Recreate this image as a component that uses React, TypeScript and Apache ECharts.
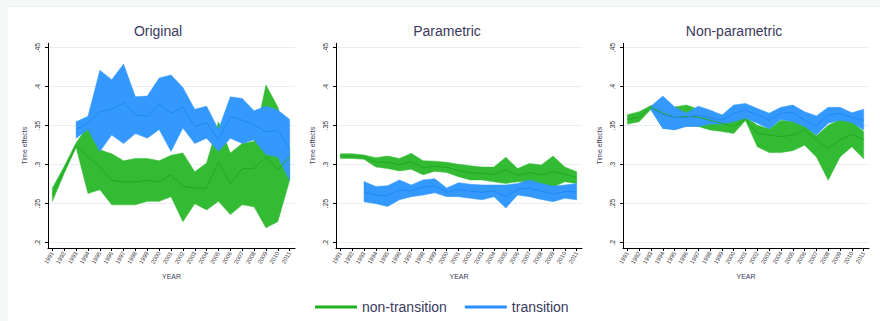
import React, { useEffect, useRef } from 'react';
import * as echarts from 'echarts';

const years = [1991, 1992, 1993, 1994, 1995, 1996, 1997, 1998, 1999, 2000, 2001, 2002, 2003, 2004, 2005, 2006, 2007, 2008, 2009, 2010, 2011];
const yTicks = [0.2, 0.25, 0.3, 0.35, 0.4, 0.45];
const panelTitles = ['Original', 'Parametric', 'Non-parametric'];
const seriesNames = ['non-transition', 'transition'];
const transitionStart = 2; // transition series begins at years[2]

// Original
const origNonLo = [0.253, 0.289, 0.322, 0.263, 0.268, 0.2485, 0.2485, 0.2485, 0.253, 0.253, 0.259, 0.227, 0.25, 0.242, 0.253, 0.236, 0.2485, 0.246, 0.219, 0.227, 0.28];
const origNonHi = [0.27, 0.298, 0.328, 0.35, 0.319, 0.314, 0.305, 0.308, 0.308, 0.305, 0.312, 0.315, 0.291, 0.302, 0.355, 0.315, 0.327, 0.33, 0.402, 0.374, 0.318];
const origNonMean = [0.261, 0.293, 0.325, 0.31, 0.297, 0.28, 0.278, 0.278, 0.28, 0.278, 0.287, 0.272, 0.27, 0.27, 0.304, 0.276, 0.295, 0.295, 0.31, 0.293, 0.31];
const origTrLo = [0.334, 0.345, 0.317, 0.338, 0.327, 0.34, 0.334, 0.345, 0.317, 0.347, 0.327, 0.334, 0.317, 0.334, 0.327, 0.332, 0.313, 0.31, 0.28];
const origTrHi = [0.355, 0.362, 0.421, 0.409, 0.429, 0.387, 0.388, 0.411, 0.415, 0.399, 0.371, 0.375, 0.345, 0.387, 0.385, 0.369, 0.375, 0.37, 0.358];
const origTrMean = [0.345, 0.353, 0.368, 0.371, 0.379, 0.364, 0.362, 0.378, 0.366, 0.374, 0.349, 0.354, 0.332, 0.362, 0.357, 0.351, 0.342, 0.344, 0.321];

// Parametric
const parNonLo = [0.308, 0.308, 0.307, 0.297, 0.295, 0.292, 0.294, 0.287, 0.2915, 0.29, 0.2845, 0.2805, 0.2805, 0.278, 0.276, 0.278, 0.278, 0.274, 0.2715, 0.278, 0.276];
const parNonHi = [0.314, 0.314, 0.3125, 0.309, 0.311, 0.308, 0.3145, 0.305, 0.3045, 0.303, 0.3005, 0.2985, 0.297, 0.297, 0.3095, 0.295, 0.3015, 0.2995, 0.311, 0.297, 0.291];
const parNonMean = [0.311, 0.311, 0.31, 0.303, 0.303, 0.3, 0.304, 0.296, 0.298, 0.2965, 0.2925, 0.2895, 0.289, 0.2875, 0.293, 0.2865, 0.29, 0.287, 0.291, 0.2875, 0.2835];
const parTrLo = [0.2525, 0.25, 0.2465, 0.255, 0.259, 0.261, 0.264, 0.259, 0.259, 0.257, 0.255, 0.259, 0.2445, 0.261, 0.259, 0.2555, 0.2525, 0.257, 0.255];
const parTrHi = [0.2785, 0.272, 0.273, 0.2805, 0.274, 0.2805, 0.282, 0.27, 0.277, 0.275, 0.274, 0.274, 0.274, 0.276, 0.2805, 0.276, 0.2725, 0.274, 0.276];
const parTrMean = [0.2655, 0.261, 0.26, 0.268, 0.2665, 0.271, 0.273, 0.2645, 0.268, 0.266, 0.2645, 0.2665, 0.259, 0.2685, 0.27, 0.266, 0.2625, 0.2655, 0.2655];

// Non-parametric
const npNonLo = [0.352, 0.355, 0.371, 0.3465, 0.3465, 0.3495, 0.349, 0.3445, 0.3425, 0.34, 0.3565, 0.323, 0.3155, 0.3155, 0.318, 0.325, 0.31, 0.28, 0.31, 0.323, 0.3075];
const npNonHi = [0.364, 0.368, 0.376, 0.375, 0.374, 0.3765, 0.371, 0.368, 0.364, 0.3595, 0.361, 0.3505, 0.346, 0.357, 0.3555, 0.3505, 0.337, 0.3505, 0.358, 0.3555, 0.3425];
const npNonMean = [0.358, 0.361, 0.374, 0.366, 0.3605, 0.362, 0.361, 0.357, 0.353, 0.349, 0.3585, 0.34, 0.338, 0.336, 0.338, 0.3445, 0.332, 0.3215, 0.332, 0.339, 0.332];
const npTrLo = [0.37, 0.3465, 0.3445, 0.349, 0.349, 0.352, 0.352, 0.355, 0.3595, 0.353, 0.346, 0.358, 0.355, 0.349, 0.338, 0.353, 0.357, 0.354, 0.3445];
const npTrHi = [0.375, 0.388, 0.374, 0.366, 0.375, 0.37, 0.3635, 0.3765, 0.3785, 0.372, 0.366, 0.3735, 0.3765, 0.368, 0.3625, 0.3735, 0.3735, 0.3665, 0.371];
const npTrMean = [0.3725, 0.364, 0.3605, 0.3605, 0.364, 0.3605, 0.357, 0.366, 0.37, 0.364, 0.357, 0.366, 0.367, 0.357, 0.35, 0.364, 0.366, 0.3605, 0.357];

const panels = [
  { non: [origNonLo, origNonHi, origNonMean], tr: [origTrLo, origTrHi, origTrMean] },
  { non: [parNonLo, parNonHi, parNonMean], tr: [parTrLo, parTrHi, parTrMean] },
  { non: [npNonLo, npNonHi, npNonMean], tr: [npTrLo, npTrHi, npTrMean] },
];

const GREEN_BAND = '#33bb33';
const GREEN_LINE = '#22a822';
const GREEN_LEGEND = '#1fb31f';
const BLUE_BAND = '#3399ff';
const BLUE_LINE = '#2288ee';
const BLUE_LEGEND = '#2a8fff';
const TEXT = '#3a3a5c';
const FONT = '"Liberation Sans", Arial, sans-serif';

const gridBoxes = [
  { left: 48, right: 585 },
  { left: 336, right: 298 },
  { left: 623, right: 11 },
];
const titleX = [158, 447, 734];

function bandSeries(g: number, start: number, lo: number[], hi: number[], mean: number[], name: string, band: string, line: string) {
  const xs = (i: number) => years[start + i];
  const rows = lo.map((v, i) => [xs(i), v, hi[i]]);
  return [
    {
      type: 'custom', name: `${name}-band-${g}`, xAxisIndex: g, yAxisIndex: g, silent: true,
      data: rows, encode: { x: 0, y: [1, 2] },
      renderItem: (params: any, api: any) => {
        if (params.dataIndexInside !== 0) return null;
        const upper = rows.map((r) => api.coord([r[0], r[2]]));
        const lower = rows.map((r) => api.coord([r[0], r[1]])).reverse();
        return {
          type: 'polygon',
          shape: { points: upper.concat(lower) },
          style: { fill: band, stroke: band, lineWidth: 0.5 },
        };
      },
    },
    {
      type: 'line', name, xAxisIndex: g, yAxisIndex: g,
      data: mean.map((v, i) => [xs(i), v]), symbol: 'none', silent: true,
      itemStyle: { color: line }, lineStyle: { color: line, width: 1 },
    },
  ];
}

const fmtY = (v: number) => String(Math.round(v * 100) / 100).replace(/^0/, '');

export default function App() {
  const ref = useRef<HTMLDivElement>(null);
  useEffect(() => {
    if (!ref.current) return;
    const chart = echarts.init(ref.current, null, { renderer: 'svg' });
    const grids = gridBoxes.map((b) => ({ left: b.left, right: b.right, top: 43.3, bottom: 73 }));
    const xAxes = gridBoxes.map((_, g) => ({
      type: 'value', gridIndex: g, min: 1990.63, max: 2011.45,
      axisLine: { show: true, onZero: false, lineStyle: { color: '#000', width: 1 } },
      axisTick: { show: true, customValues: years, length: 3, lineStyle: { color: '#000' } },
      axisLabel: {
        customValues: years, rotate: 60, fontSize: 6, color: '#444', margin: 4,
        fontFamily: FONT, formatter: (v: number) => String(v),
      },
      splitLine: { show: false },
      name: 'YEAR', nameLocation: 'middle', nameGap: 25,
      nameTextStyle: { fontSize: 7, color: TEXT, fontFamily: FONT },
    }));
    const yAxes = gridBoxes.map((_, g) => ({
      type: 'value', gridIndex: g, min: 0.1932, max: 0.4556,
      axisLine: { show: true, lineStyle: { color: '#000', width: 1 } },
      axisTick: { show: true, customValues: yTicks, length: 3, lineStyle: { color: '#000' } },
      axisLabel: {
        customValues: yTicks, rotate: 90, fontSize: 7, color: '#333', margin: 7,
        fontFamily: FONT, formatter: fmtY,
      },
      splitLine: { show: true, lineStyle: { color: '#e6eff1', width: 1 } },
      name: 'Time effects', nameLocation: 'middle', nameGap: 20, nameRotate: 90,
      nameTextStyle: { fontSize: 7, color: TEXT, fontFamily: FONT },
    }));
    const series: any[] = [];
    panels.forEach((p, g) => {
      series.push(...bandSeries(g, 0, p.non[0], p.non[1], p.non[2], seriesNames[0], GREEN_BAND, GREEN_LINE));
      series.push(...bandSeries(g, transitionStart, p.tr[0], p.tr[1], p.tr[2], seriesNames[1], BLUE_BAND, BLUE_LINE));
    });
    chart.setOption({
      animation: false,
      backgroundColor: '#ffffff',
      textStyle: { fontFamily: FONT },
      graphic: [
        { type: 'rect', shape: { x: 0, y: 0, width: 880, height: 6 }, style: { fill: '#f6f7f7' }, z: -10 },
        { type: 'rect', shape: { x: 0, y: 0, width: 8, height: 321 }, style: { fill: '#f6f7f7' }, z: -10 },
        { type: 'line', shape: { x1: 8, y1: 6.5, x2: 880, y2: 6.5 }, style: { stroke: '#e4eef0', lineWidth: 1 }, z: -9 },
        ...panelTitles.map((t, i) => ({
          type: 'text', x: titleX[i], y: 31,
          style: { text: t, fill: TEXT, fontSize: 14, fontFamily: FONT, textAlign: 'center', textVerticalAlign: 'middle' },
        })),
      ],
      legend: {
        data: [
          { name: seriesNames[0], icon: 'rect', itemStyle: { color: GREEN_LEGEND } },
          { name: seriesNames[1], icon: 'rect', itemStyle: { color: BLUE_LEGEND } },
        ],
        left: 310, top: 295, itemWidth: 42, itemHeight: 3, itemGap: 18,
        textStyle: { fontSize: 14, color: TEXT, fontFamily: FONT },
        selectedMode: false,
      },
      grid: grids,
      xAxis: xAxes,
      yAxis: yAxes,
      series,
    });
    return () => chart.dispose();
  }, []);
  return <div ref={ref} style={{ position: 'absolute', left: 0, top: 0, width: 880, height: 321 }} />;
}
